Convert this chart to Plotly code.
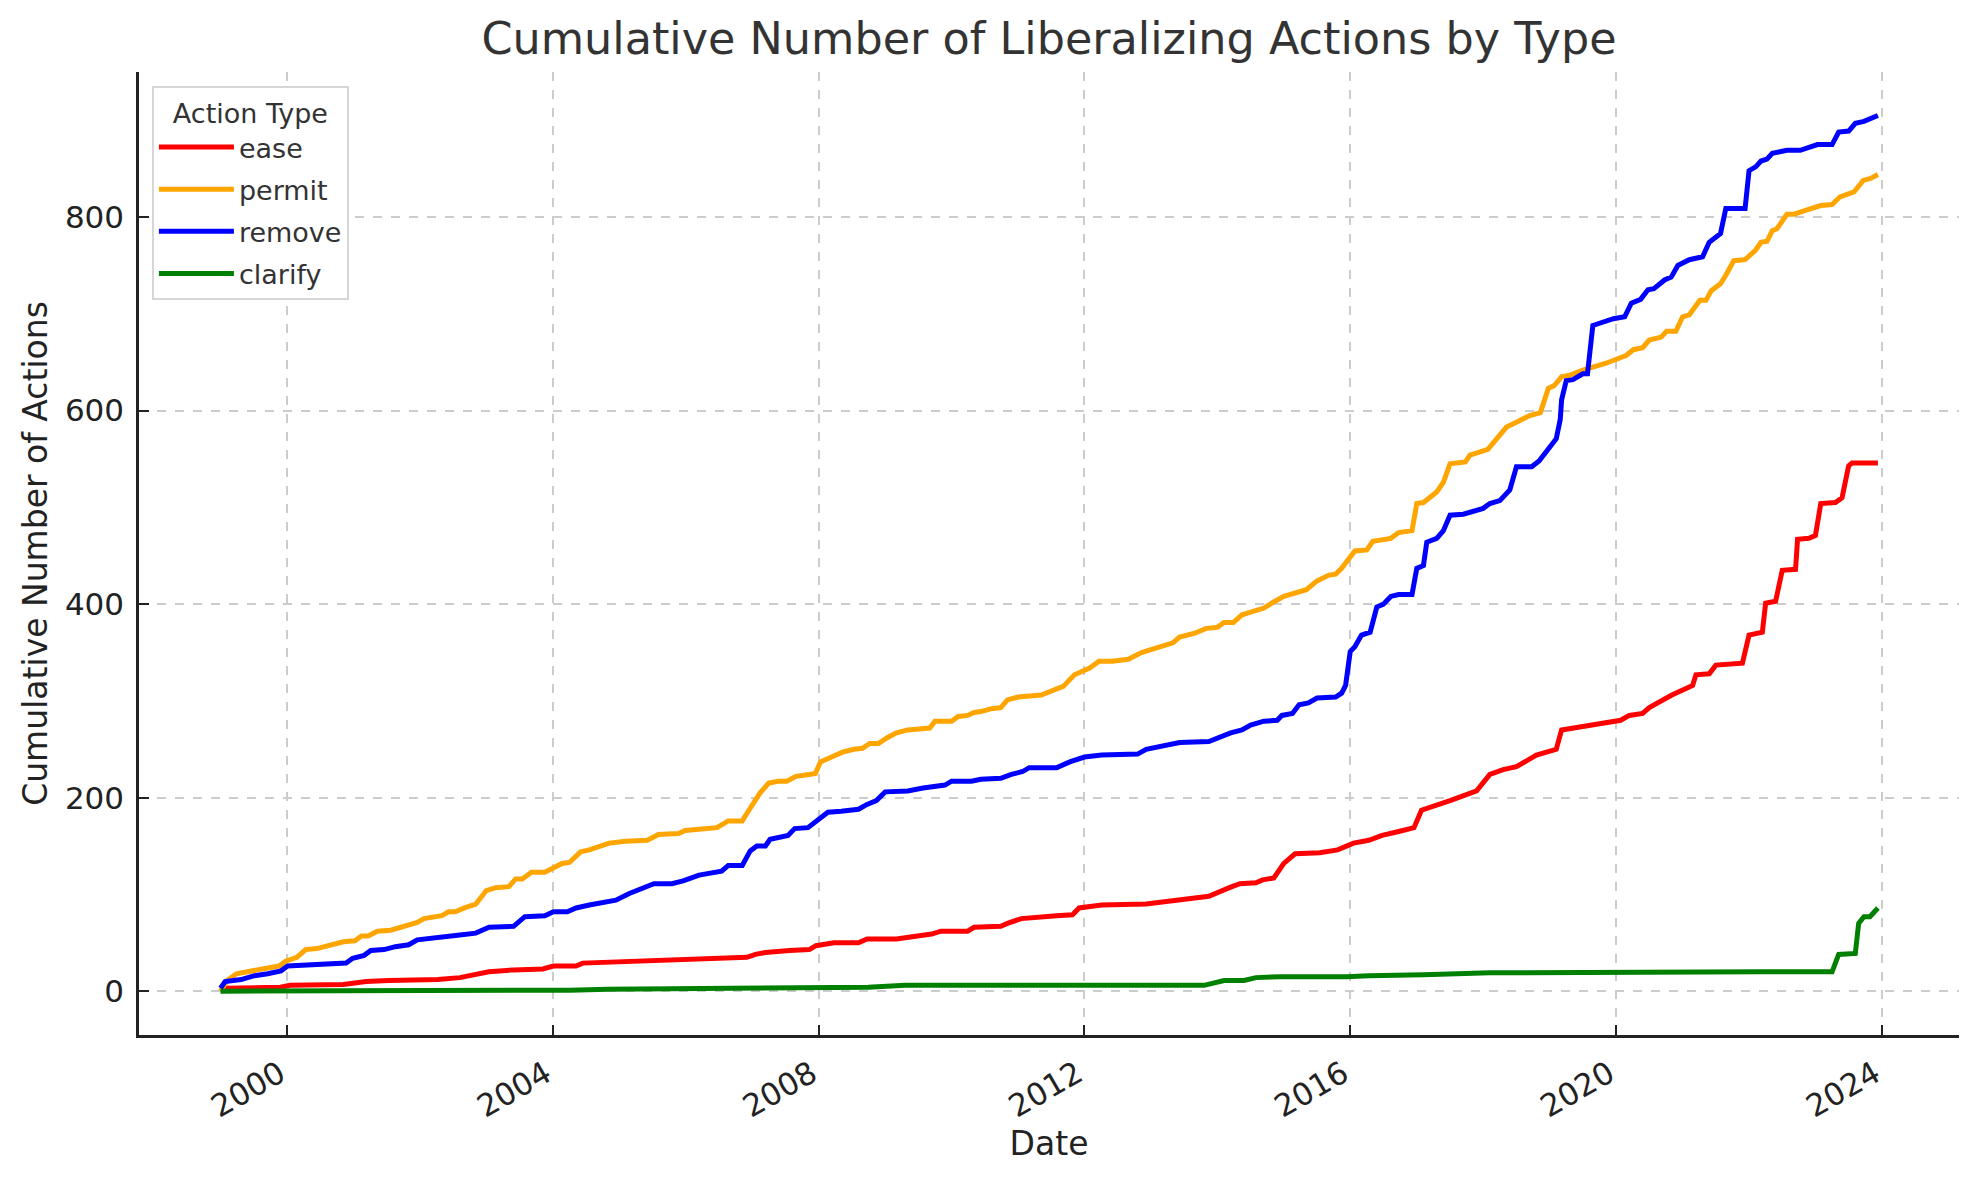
import pandas as pd
import plotly.graph_objects as go

# ---- data (decimal years, cumulative counts) ----
ease_years = [1999.0, 1999.1, 1999.9, 2000.05, 2000.85, 2001.19, 2001.53, 2002.27, 2002.6, 2002.8,
              2003.04, 2003.41, 2003.85, 2004.01, 2004.35, 2004.45, 2004.89, 2005.15, 2005.96, 2006.2,
              2006.58, 2006.92, 2007.05, 2007.2, 2007.56, 2007.86, 2007.96, 2008.23, 2008.6, 2008.73,
              2009.17, 2009.57, 2009.7, 2009.84, 2010.24, 2010.34, 2010.74, 2010.84, 2011.05, 2011.58,
              2011.82, 2011.92, 2012.26, 2012.93, 2013.4, 2013.87, 2014.18, 2014.34, 2014.58, 2014.68,
              2014.85, 2015.0, 2015.17, 2015.54, 2015.81, 2016.05, 2016.28, 2016.48, 2016.73, 2016.96,
              2017.07, 2017.3, 2017.5, 2017.9, 2018.1, 2018.3, 2018.5, 2018.8, 2019.1, 2019.18,
              2019.85, 2020.07, 2020.2, 2020.4, 2020.5, 2020.84, 2021.15, 2021.2, 2021.4, 2021.5,
              2021.9, 2022.0, 2022.2, 2022.25, 2022.4, 2022.5, 2022.7, 2022.73, 2022.9, 2023.0,
              2023.08, 2023.3, 2023.4, 2023.5, 2023.55, 2023.94]
ease_vals = [0, 3, 4, 6, 7, 10, 11, 12, 14, 17,
             20, 22, 23, 26, 26, 29, 30, 31, 32, 33,
             34, 35, 38, 40, 42, 43, 47, 50, 50, 54,
             54, 57, 59, 62, 62, 66, 67, 70, 75, 78,
             79, 86, 89, 90, 94, 98, 107, 111, 112, 115,
             117, 132, 142, 143, 146, 153, 156, 161, 165, 169,
             187, 193, 197, 207, 224, 229, 232, 244, 250, 270,
             277, 280, 285, 287, 293, 306, 316, 327, 328, 337,
             339, 368, 371, 401, 403, 435, 436, 467, 468, 471,
             504, 505, 510, 543, 546, 546]

permit_years = [1999.0, 1999.1, 1999.24, 1999.44, 1999.71, 1999.88, 1999.98, 2000.15, 2000.28, 2000.45,
                2000.65, 2000.85, 2001.02, 2001.12, 2001.22, 2001.36, 2001.56, 2001.8, 2001.96, 2002.06,
                2002.33, 2002.43, 2002.53, 2002.67, 2002.84, 2003.0, 2003.14, 2003.34, 2003.44, 2003.54,
                2003.68, 2003.88, 2004.01, 2004.14, 2004.25, 2004.42, 2004.55, 2004.85, 2005.09, 2005.42,
                2005.59, 2005.89, 2005.99, 2006.2, 2006.47, 2006.64, 2006.85, 2006.95, 2007.05, 2007.12,
                2007.25, 2007.39, 2007.52, 2007.66, 2007.86, 2007.95, 2008.03, 2008.16, 2008.3, 2008.36,
                2008.53, 2008.66, 2008.77, 2008.9, 2009.03, 2009.17, 2009.34, 2009.54, 2009.67, 2009.75,
                2010.0, 2010.1, 2010.24, 2010.34, 2010.44, 2010.6, 2010.74, 2010.84, 2011.0, 2011.35,
                2011.48, 2011.68, 2011.85, 2012.02, 2012.08, 2012.22, 2012.42, 2012.66, 2012.86, 2013.0,
                2013.26, 2013.33, 2013.43, 2013.66, 2013.83, 2014.0, 2014.1, 2014.24, 2014.37, 2014.54,
                2014.7, 2014.84, 2015.0, 2015.34, 2015.5, 2015.68, 2015.78, 2015.87, 2015.97, 2016.07,
                2016.25, 2016.34, 2016.61, 2016.73, 2016.93, 2017.0, 2017.1, 2017.2, 2017.3, 2017.4,
                2017.5, 2017.73, 2017.8, 2018.07, 2018.2, 2018.35, 2018.5, 2018.6, 2018.7, 2018.86,
                2018.92, 2018.98, 2019.07, 2019.18, 2019.32, 2019.5, 2019.85, 2020.15, 2020.26, 2020.4,
                2020.5, 2020.68, 2020.76, 2020.9, 2021.0, 2021.1, 2021.26, 2021.35, 2021.43, 2021.57,
                2021.65, 2021.77, 2021.94, 2022.1, 2022.18, 2022.27, 2022.35, 2022.42, 2022.57, 2022.68,
                2022.85, 2023.08, 2023.25, 2023.37, 2023.58, 2023.72, 2023.83, 2023.94]
permit_vals = [0, 11, 18, 21, 24, 26, 31, 35, 43, 44,
               47, 51, 52, 57, 57, 62, 63, 68, 71, 75,
               78, 82, 82, 86, 90, 104, 107, 108, 116, 116,
               123, 123, 128, 132, 133, 144, 146, 153, 155, 156,
               162, 163, 166, 167, 169, 176, 176, 187, 198, 205,
               215, 217, 217, 222, 224, 225, 237, 241, 244, 247,
               250, 251, 256, 256, 262, 267, 270, 271, 272, 279,
               279, 284, 285, 288, 289, 292, 293, 301, 304, 306,
               310, 315, 327, 333, 334, 341, 341, 343, 350, 353,
               358, 360, 366, 370, 375, 376, 381, 381, 389, 393,
               396, 402, 408, 415, 424, 430, 431, 437, 447, 455,
               456, 465, 468, 474, 476, 504, 505, 511, 516, 526,
               545, 547, 554, 560, 571, 583, 588, 591, 595, 598,
               609, 623, 626, 635, 637, 642, 649, 657, 663, 665,
               673, 676, 682, 682, 697, 699, 714, 714, 724, 731,
               740, 755, 756, 766, 774, 775, 786, 788, 803, 803,
               807, 812, 813, 821, 826, 838, 840, 844]

remove_years = [1999.0, 1999.07, 1999.31, 1999.51, 1999.71, 1999.91, 2000.01, 2000.38, 2000.65, 2000.89,
                2000.99, 2001.16, 2001.26, 2001.46, 2001.63, 2001.83, 2001.96, 2002.13, 2002.4, 2002.6,
                2002.84, 2003.04, 2003.41, 2003.58, 2003.88, 2004.01, 2004.22, 2004.35, 2004.55, 2004.75,
                2004.95, 2005.15, 2005.35, 2005.52, 2005.79, 2005.96, 2006.2, 2006.54, 2006.64, 2006.85,
                2006.97, 2007.07, 2007.2, 2007.27, 2007.54, 2007.64, 2007.84, 2007.97, 2008.14, 2008.34,
                2008.6, 2008.73, 2008.87, 2009.0, 2009.34, 2009.57, 2009.9, 2010.0, 2010.3, 2010.44,
                2010.74, 2010.9, 2011.07, 2011.17, 2011.58, 2011.78, 2012.0, 2012.26, 2012.8, 2012.93,
                2013.13, 2013.33, 2013.43, 2013.87, 2014.0, 2014.2, 2014.37, 2014.5, 2014.7, 2014.9,
                2014.97, 2015.13, 2015.23, 2015.37, 2015.5, 2015.78, 2015.87, 2015.93, 2016.0, 2016.07,
                2016.17, 2016.3, 2016.4, 2016.5, 2016.61, 2016.73, 2016.93, 2017.0, 2017.1, 2017.15,
                2017.3, 2017.4, 2017.5, 2017.7, 2018.0, 2018.1, 2018.25, 2018.4, 2018.5, 2018.73,
                2018.84, 2018.98, 2019.1, 2019.16, 2019.18, 2019.25, 2019.35, 2019.5, 2019.57, 2019.65,
                2019.85, 2019.96, 2020.13, 2020.23, 2020.37, 2020.48, 2020.57, 2020.73, 2020.83, 2020.93,
                2021.1, 2021.3, 2021.4, 2021.57, 2021.65, 2021.94, 2022.0, 2022.1, 2022.18, 2022.27,
                2022.35, 2022.57, 2022.77, 2023.03, 2023.25, 2023.35, 2023.5, 2023.6, 2023.73, 2023.94]
remove_vals = [3, 10, 12, 16, 18, 21, 26, 27, 28, 29,
               34, 37, 42, 43, 46, 48, 53, 54, 56, 58,
               60, 66, 67, 77, 78, 82, 82, 86, 89, 92,
               94, 101, 106, 111, 111, 114, 120, 124, 130, 130,
               145, 150, 150, 157, 161, 168, 169, 176, 185, 186,
               188, 193, 197, 206, 207, 210, 213, 217, 217, 219,
               220, 224, 227, 231, 231, 237, 242, 244, 245, 250,
               253, 255, 257, 258, 262, 267, 270, 275, 279, 280,
               285, 287, 296, 298, 303, 304, 308, 316, 351, 356,
               368, 371, 397, 400, 408, 410, 410, 437, 440, 464,
               468, 476, 492, 493, 499, 504, 507, 518, 542, 542,
               548, 560, 571, 591, 611, 631, 632, 638, 638, 688,
               692, 695, 697, 711, 715, 725, 726, 735, 738, 750,
               756, 759, 774, 783, 809, 809, 848, 852, 858, 860,
               866, 869, 869, 875, 875, 888, 889, 897, 899, 905]

clarify_years = [1999.0, 2004.01, 2004.25, 2004.83, 2006.2, 2007.0, 2008.75, 2009.3, 2013.8, 2014.1,
                 2014.4, 2014.58, 2014.95, 2015.95, 2016.28, 2017.1, 2018.1, 2022.18, 2023.25, 2023.35,
                 2023.6, 2023.65, 2023.73, 2023.82, 2023.94]
clarify_vals = [0, 0, 1, 2, 3, 4, 4, 6, 6, 11,
                11, 14, 15, 15, 16, 17, 19, 20, 20, 38,
                39, 70, 77, 77, 86]

series_names = ["ease", "permit", "remove", "clarify"]
series_colors = ["red", "orange", "blue", "green"]
year_ticks = [2000, 2004, 2008, 2012, 2016, 2020, 2024]
y_ticks = [0, 200, 400, 600, 800]


def to_dates(years):
    out = []
    for y in years:
        base = int(y)
        out.append(pd.Timestamp(f"{base}-01-01") + pd.Timedelta(days=(y - base) * 365.25))
    return out


all_years = [ease_years, permit_years, remove_years, clarify_years]
all_vals = [ease_vals, permit_vals, remove_vals, clarify_vals]

fig = go.Figure()
for name, color, yrs, vals in zip(series_names, series_colors, all_years, all_vals):
    fig.add_trace(go.Scatter(x=to_dates(yrs), y=vals, mode="lines", name=name,
                             legendgroup=name,
                             line=dict(color=color, width=5)))

font_family = "DejaVu Sans"
W, H = 1971, 1172  # page body has an 8px margin
fig.update_layout(
    width=W, height=H,
    margin=dict(l=131, r=20, t=64, b=145),
    paper_bgcolor="white", plot_bgcolor="white",
    font=dict(family=font_family, color="#222222"),
    title=dict(text="Cumulative Number of Liberalizing Actions by Type",
               font=dict(size=44.5, color="#333333", family=font_family),
               x=0.5, xref="paper", xanchor="center",
               y=1 - 30 / H, yref="container", yanchor="middle"),
    legend=dict(
        title=dict(text="Action Type", font=dict(size=27, color="#333333"), side="top center"),
        font=dict(size=27, color="#333333"),
        x=0.0071, y=0.9855, xanchor="left", yanchor="top",
        bgcolor="white", bordercolor="#d6d6d6", borderwidth=2,
        itemwidth=75, tracegroupgap=4,
    ),
    showlegend=True,
)

fig.update_xaxes(
    range=[pd.Timestamp("1997-10-10"), pd.Timestamp("2025-02-28")],
    tickmode="array",
    tickvals=[pd.Timestamp(f"{y}-01-01") for y in year_ticks],
    ticktext=[str(y) for y in year_ticks],
    tickangle=-30,
    tickfont=dict(size=31, color="#222222"),
    ticks="inside", ticklen=10, tickwidth=2, tickcolor="#222222",
    ticklabelstandoff=6, ticklabelshift=-7,
    showline=True, linecolor="#222222", linewidth=2.5, mirror=False,
    showgrid=True, gridcolor="#cccccc", griddash="dash", gridwidth=1.5,
    zeroline=False,
    title=dict(text="Date", font=dict(size=33, color="#222222"), standoff=5),
)
fig.update_yaxes(
    range=[-45.3, 950],
    tickmode="array", tickvals=y_ticks, ticktext=[str(v) for v in y_ticks],
    tickfont=dict(size=31, color="#222222"),
    ticks="inside", ticklen=10, tickwidth=2, tickcolor="#222222",
    ticklabelstandoff=6,
    showline=True, linecolor="#222222", linewidth=2.5, mirror=False,
    showgrid=True, gridcolor="#cccccc", griddash="dash", gridwidth=1.5,
    zeroline=False,
    title=dict(text="Cumulative Number of Actions", font=dict(size=33, color="#222222"), standoff=8),
)

fig.write_html("out.html")
